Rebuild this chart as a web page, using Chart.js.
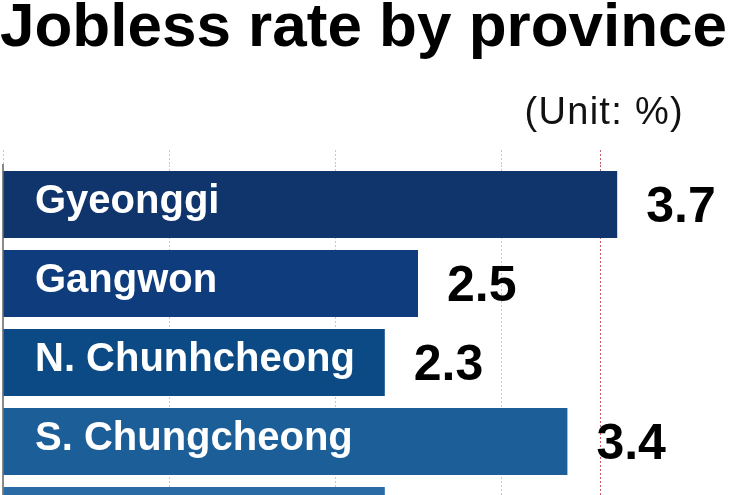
<!DOCTYPE html>
<html>
<head>
<meta charset="utf-8">
<script src="https://cdn.jsdelivr.net/npm/chart.js@4/dist/chart.umd.min.js"></script>
<style>
  html, body { margin: 0; padding: 0; background: #fff; overflow: hidden; }
  #wrap { position: relative; width: 750px; height: 495px; overflow: hidden; }
  #title {
    position: absolute; left: 0; top: -6px; margin: 0;
    font: bold 62px "Liberation Sans", Arial, sans-serif; line-height: 62px;
    color: #000; white-space: nowrap;
  }
  #unit {
    position: absolute; right: 66px; top: 92px;
    font: 38px "Liberation Sans", Arial, sans-serif; line-height: 38px;
    letter-spacing: 1.3px; color: #111; white-space: nowrap;
  }
  canvas { position: absolute; left: 0; top: 0; }
</style>
</head>
<body>
<div id="wrap">
  <canvas id="chart" width="750" height="600"></canvas>
  <h1 id="title">Jobless rate by province</h1>
  <div id="unit">(Unit: %)</div>
</div>
<script>
// chart data
const provinces = ["Gyeonggi", "Gangwon", "N. Chunhcheong", "S. Chungcheong", "N. Jeolla"];
const joblessRate = [3.7, 2.5, 2.3, 3.4, 2.3];
const gridValues = [0, 1, 2, 3];
const averageLine = 3.6;

const barColors = ["#10356c", "#0f3c7c", "#0c4a86", "#1c5e98", "#2a6ba6"];

// draws the province name inside each bar and the value after it
const barLabels = {
    id: "barLabels",
    afterDatasetsDraw(chart) {
        const ctx = chart.ctx;
        const bars = chart.getDatasetMeta(0).data;
        ctx.save();
        bars.forEach((bar, i) => {
            ctx.textAlign = "left";
            ctx.textBaseline = "alphabetic";
            ctx.fillStyle = "#fff";
            ctx.font = 'bold 40px "Liberation Sans", Arial, sans-serif';
            ctx.fillText(provinces[i], chart.chartArea.left + 32, bar.y + 8);

            ctx.fillStyle = "#000";
            ctx.font = 'bold 50px "Liberation Sans", Arial, sans-serif';
            ctx.fillText(joblessRate[i].toFixed(1), bar.x + 29, bar.y + 17);
        });
        ctx.restore();
    }
};

new Chart(document.getElementById("chart"), {
    type: "bar",
    data: {
        labels: provinces,
        datasets: [{
            data: joblessRate,
            backgroundColor: barColors,
            borderWidth: 0,
            categoryPercentage: 1,
            barPercentage: 0.848
        }]
    },
    options: {
        indexAxis: "y",
        responsive: false,
        animation: false,
        layout: { padding: { top: 150, left: 3, right: 0, bottom: 40 } },
        plugins: {
            legend: { display: false },
            tooltip: { enabled: false }
        },
        scales: {
            x: {
                position: "top",
                min: 0,
                max: 4.5,
                afterBuildTicks: (scale) => {
                    scale.ticks = gridValues.concat([averageLine]).map(v => ({ value: v }));
                },
                ticks: { display: false },
                grid: {
                    drawTicks: true,
                    tickLength: 15,
                    lineWidth: 1,
                    color: (c) => c.tick && c.tick.value === averageLine ? "#c4606c" : "#c9c9c9",
                    tickColor: (c) => c.tick && c.tick.value === averageLine ? "#c4606c" : "#c9c9c9",
                    tickBorderDash: [2, 2]
                },
                border: { display: false, dash: [2, 2] }
            },
            y: {
                ticks: { display: false },
                grid: { display: false, drawTicks: false },
                border: { display: true, color: "#8a8a8a", width: 2 }
            }
        }
    },
    plugins: [barLabels]
});
</script>
</body>
</html>
